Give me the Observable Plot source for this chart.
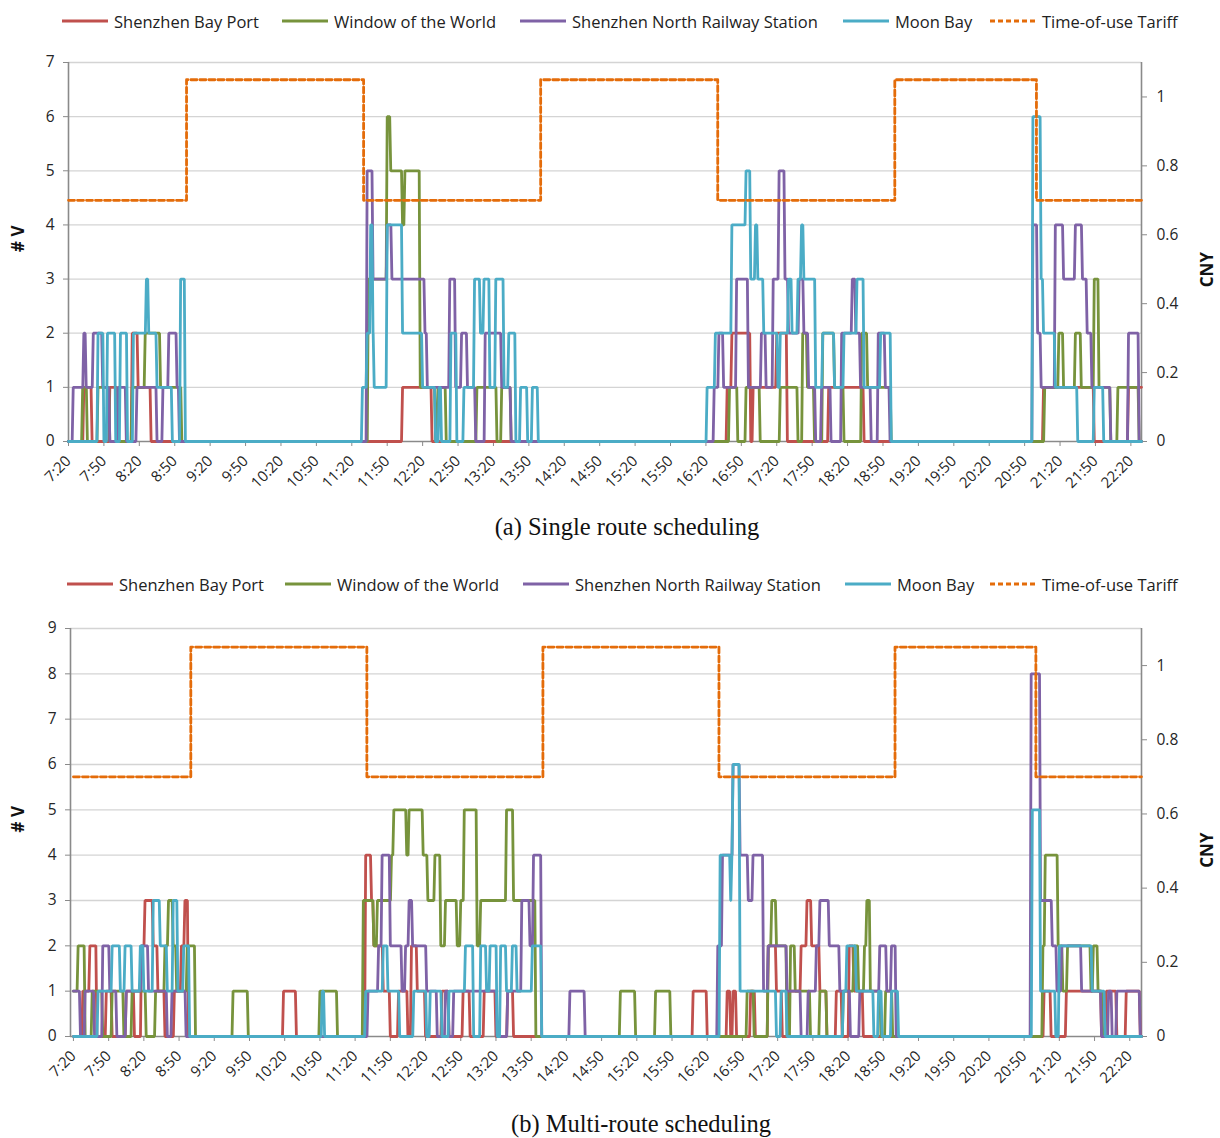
<!DOCTYPE html>
<html><head><meta charset="utf-8">
<script src="https://cdn.jsdelivr.net/npm/d3@7"></script>
<script src="https://cdn.jsdelivr.net/npm/@observablehq/plot@0.6"></script>
<style>
body{margin:0;background:#fff;font-family:"Open Sans",sans-serif;}
#page{position:relative;width:1220px;height:1138px;overflow:hidden;}
.legend{position:absolute;left:0;width:1220px;height:22px;font-size:16.5px;color:#222;}
.legend .item{position:absolute;top:0;height:22px;display:flex;align-items:center;white-space:nowrap;}
.legend svg{margin-right:6px;}
.chart{position:absolute;left:0;}
.caption{position:absolute;transform:translateX(-50%);font-family:"Liberation Serif",serif;font-size:24.5px;color:#111;white-space:nowrap;}
</style></head>
<body><div id="page"></div>
<script>
// ---------- data ----------
const seriesNames = ["Shenzhen Bay Port","Window of the World","Shenzhen North Railway Station","Moon Bay","Time-of-use Tariff"];
const seriesColors = ["#C0504D","#77933C","#7F62A6","#4BACC6","#E46C0A"];

const tariff_t = ["7:20","9:00","11:30","14:00","16:30","19:00","21:00"];
const tariff_v = [0.7,1.05,0.7,1.05,0.7,1.05,0.7];

// (a) single route scheduling
const aSBP_t = ["7:20","7:33","7:40","7:55","8:02","8:14","8:19","8:30","12:03","12:28","16:38","16:42","16:58","17:00","17:20","17:29","18:04","18:34","21:06","21:49","22:18"];
const aSBP_v = [0,1,0,1,0,2,1,0,1,0,1,2,0,1,2,0,1,0,1,0,1];
const aWOW_t = ["7:20","7:32","7:36","7:45","7:55","8:14","8:25","8:38","8:56","11:34","11:50","11:53","12:03","12:05","12:18","12:31","12:33","12:40","13:06","13:23","13:27","13:35","16:40","16:47","16:54","17:06","17:23","17:38","17:42","17:46","17:52","17:59","18:09","18:17","18:32","18:37","18:57","21:07","21:19","21:23","21:33","21:38","21:49","21:53","22:03","22:09","22:27"];
const aWOW_v = [0,1,0,1,0,1,2,1,0,3,6,5,4,5,1,0,1,0,1,0,1,0,1,0,1,0,1,0,2,1,0,2,1,0,2,1,0,1,2,1,2,1,3,1,0,1,0];
const aNRS_t = ["7:20","7:24","7:33","7:35","7:41","7:49","7:55","8:02","8:09","8:18","8:35","8:40","8:45","8:52","8:54","11:33","11:38","11:50","11:54","12:22","12:24","12:43","12:48","12:53","12:58","13:05","13:13","13:27","13:35","16:27","16:31","16:35","16:46","16:56","17:07","17:11","17:17","17:22","17:27","17:30","17:39","17:43","17:47","17:53","17:58","18:06","18:15","18:24","18:27","18:31","18:40","18:46","18:52","18:56","20:57","21:01","21:04","21:16","21:23","21:33","21:39","21:43","21:47","22:03","22:18","22:27"];
const aNRS_v = [0,1,2,1,2,1,0,1,0,1,0,1,2,1,0,5,3,4,3,2,1,3,1,2,1,0,2,1,0,1,2,1,3,1,2,1,3,5,3,2,3,2,1,0,1,0,2,3,2,1,0,2,1,0,4,2,1,4,3,4,3,2,1,0,2,0];
const aMB_t = ["7:20","7:45","7:50","7:53","8:00","8:04","8:10","8:15","8:26","8:28","8:35","8:48","8:55","8:59","11:29","11:33","11:36","11:38","11:39","11:50","12:03","12:20","12:31","12:34","12:36","12:44","12:49","12:55","13:04","13:09","13:12","13:17","13:22","13:29","13:33","13:39","13:43","13:49","13:53","13:58","16:21","16:28","16:42","16:54","16:58","17:02","17:04","17:09","17:21","17:23","17:30","17:33","17:38","17:41","17:43","17:53","17:59","18:09","18:17","18:28","18:34","18:48","18:57","20:57","21:04","21:06","21:16","21:35","21:49","21:57"];
const aMB_v = [0,2,0,2,0,2,0,2,3,2,1,0,3,0,1,2,4,2,1,4,2,1,0,1,0,2,0,1,3,2,3,1,3,1,2,0,1,0,1,0,1,2,4,5,3,4,3,2,1,2,3,2,3,4,3,1,2,1,2,3,1,2,0,6,3,2,1,0,1,0];

// (b) multi-route scheduling
const bSBP_t = ["7:20","7:28","7:34","7:40","7:48","7:53","8:05","8:12","8:18","8:21","8:28","8:32","8:38","8:46","8:52","8:55","8:58","10:19","10:30","11:29","11:34","11:36","11:44","11:50","11:57","12:05","12:08","12:13","12:20","12:34","12:40","12:52","12:58","13:10","13:20","13:30","13:35","16:08","16:20","16:37","16:40","16:42","16:45","16:57","17:01","17:12","17:19","17:24","17:30","17:40","17:45","17:49","17:56","18:02","18:10","18:15","18:21","18:25","18:33","21:07","21:13","21:26","21:56","22:00","22:09","22:17","22:29"];
const bSBP_v = [0,1,2,0,1,0,1,0,2,3,2,1,0,1,2,3,0,1,0,4,3,2,1,0,1,0,2,1,0,1,0,1,0,1,0,1,0,1,0,1,0,1,0,1,0,2,1,0,1,2,3,2,1,0,1,0,2,1,0,1,0,1,0,1,0,1,0];
const bWOW_t = ["7:20","7:24","7:30","7:36","7:45","7:53","8:03","8:10","8:22","8:30","8:38","8:41","8:45","8:48","8:57","9:04","9:36","9:49","10:50","11:05","11:27","11:36","11:39","11:51","11:53","12:04","12:06","12:18","12:22","12:28","12:33","12:37","12:47","12:50","12:53","13:04","13:07","13:29","13:35","13:54","15:06","15:19","15:36","15:49","16:54","17:00","17:12","17:15","17:19","17:28","17:31","17:35","17:48","17:56","18:02","18:16","18:25","18:29","18:34","18:36","18:39","18:48","18:52","18:58","21:06","21:08","21:19","21:23","21:27","21:47","21:49","21:53","21:57"];
const bWOW_v = [1,2,0,1,0,1,0,1,0,1,2,3,2,1,2,0,1,0,1,0,3,2,3,4,5,4,5,4,3,4,2,3,2,3,5,2,3,5,3,0,1,0,1,0,1,0,2,3,2,0,2,1,0,1,0,1,2,1,2,3,1,0,1,0,2,4,2,1,2,1,2,1,0];
const bNRS_t = ["7:20","7:26","7:30","7:38","7:45","7:51","7:57","8:05","8:18","8:24","8:40","8:44","8:56","11:31","11:40","11:43","11:50","12:00","12:03","12:06","12:09","12:21","12:30","12:37","12:40","12:44","13:21","13:30","13:42","13:49","13:52","13:59","14:23","14:36","16:29","16:33","16:42","16:48","16:55","16:59","17:08","17:12","17:28","17:40","17:46","17:53","17:56","18:04","18:13","18:22","18:30","18:47","18:53","18:57","19:01","20:56","21:04","21:14","21:18","21:22","21:39","21:56","22:02","22:05","22:09","22:29"];
const bNRS_v = [1,0,1,0,2,1,0,1,2,1,0,1,0,1,2,4,2,1,2,3,2,1,0,1,0,1,0,1,3,2,4,0,1,0,2,4,6,4,3,4,1,2,1,0,1,2,3,2,1,0,1,2,1,2,0,8,3,2,1,2,1,0,1,0,1,0];
const bMB_t = ["7:20","7:41","7:53","8:00","8:04","8:10","8:17","8:20","8:28","8:34","8:40","8:45","8:49","8:54","8:59","10:52","10:54","11:29","11:44","11:48","11:58","12:10","12:21","12:24","12:34","12:40","12:54","13:01","13:07","13:12","13:15","13:21","13:24","13:29","13:34","13:38","13:51","13:59","16:31","16:40","16:41","16:42","16:48","17:19","17:23","17:28","18:16","18:19","18:27","18:42","18:46","18:49","18:57","19:03","20:57","21:04","21:17","21:20","21:48","21:59"];
const bMB_v = [0,1,2,1,2,1,2,1,3,2,1,3,1,2,0,1,0,1,2,1,0,1,0,1,0,1,2,0,2,1,2,0,2,1,2,1,2,0,4,3,4,6,1,0,1,0,1,2,1,0,1,0,1,0,5,1,0,2,1,0];

const xTickStart = "7:20", xTickEnd = "22:20", xTickStep = 30;
const cnyTicks = [0,0.2,0.4,0.6,0.8,1];
const cnyMax = 1.1;

// ---------- helpers ----------
const toMin = s => { const [h,m] = s.split(":").map(Number); return h*60+m; };
const fmtClock = m => `${Math.floor(m/60)}:${String(Math.round(m%60)).padStart(2,"0")}`;
// per-minute samples joined by straight segments (as in the source spreadsheet chart)
function build(ts, vs, end) {
  const pts = [];
  ts.forEach((t,i)=>{
    const x = toMin(t);
    if (i > 0) pts.push({x: x - 0.9, y: vs[i-1]});
    pts.push({x, y: vs[i]});
  });
  pts.push({x: end, y: vs[vs.length-1]});
  return pts;
}
function buildStep(ts, vs, end, scale) {
  const pts = ts.map((t,i)=>({x: toMin(t), y: vs[i]*scale}));
  pts.push({x: end, y: vs[vs.length-1]*scale});
  return pts;
}

const page = document.getElementById("page");

function legend(top, starts) {
  const div = document.createElement("div");
  div.className = "legend"; div.style.top = top + "px";
  seriesNames.forEach((name,i)=>{
    const it = document.createElement("div");
    it.className = "item"; it.style.left = starts[i] + "px";
    const dash = i === 4 ? 'stroke-dasharray="5,3"' : '';
    it.innerHTML = `<svg width="46" height="6"><line x1="0" y1="3" x2="46" y2="3" stroke="${seriesColors[i]}" stroke-width="3" ${dash}/></svg><span>${name}</span>`;
    div.appendChild(it);
  });
  page.appendChild(div);
}

function panel(cfg) {
  const k = cfg.yMax / cnyMax;
  const end = cfg.domain[1];
  const data = [
    build(cfg.sbp[0], cfg.sbp[1], end),
    build(cfg.wow[0], cfg.wow[1], end),
    build(cfg.nrs[0], cfg.nrs[1], end),
    build(cfg.mb[0], cfg.mb[1], end)
  ];
  const tar = buildStep(tariff_t, tariff_v, end, k);
  const xt = d3.range(toMin(xTickStart), toMin(xTickEnd)+1, xTickStep);
  const plot = Plot.plot({
    width: 1220, height: cfg.height,
    marginLeft: cfg.ml, marginRight: 79, marginTop: cfg.mt, marginBottom: cfg.mb_,
    x: {type: "linear", domain: cfg.domain},
    y: {domain: [0, cfg.yMax]},
    style: {fontFamily: "Open Sans, sans-serif", fontSize: "15.5px", color: "#262626", background: "#fff"},
    marks: [
      Plot.gridY(d3.range(1, cfg.yMax+1), {stroke: "#d4d4d4", strokeOpacity: 1, strokeWidth: 1.3}),
      Plot.ruleY([0], {stroke: "#8a8a8a", strokeWidth: 1.6}),
      Plot.ruleX([cfg.domain[0]], {stroke: "#8a8a8a", strokeWidth: 1.6}),
      Plot.ruleX([cfg.domain[1]], {stroke: "#8a8a8a", strokeWidth: 1.6}),
      Plot.axisX(xt, {tickRotate: -45, tickFormat: fmtClock, tickSize: 5, tickPadding: 12, stroke: "#8a8a8a", fontSize: 15, label: null}),
      Plot.axisY(d3.range(0, cfg.yMax+1), {anchor: "left", tickSize: 5, tickPadding: 9, stroke: "#8a8a8a", tickFormat: d => String(d), label: null}),
      Plot.axisY(cnyTicks.map(v=>v*k), {anchor: "right", tickSize: 5, tickPadding: 10, stroke: "#8a8a8a", tickFormat: d => String(Math.round(d/k*10)/10), label: null}),
      ...data.map((d,i)=>Plot.line(d, {x: "x", y: "y", stroke: seriesColors[i], strokeWidth: 2.8, strokeLinejoin: "miter", curve: "linear"})),
      Plot.line(tar, {x: "x", y: "y", stroke: seriesColors[4], strokeWidth: 2.8, strokeDasharray: "6,3", curve: "step-after"}),
      Plot.text(["# V"], {frameAnchor: "left", rotate: -90, dx: cfg.ml === 68 ? -50 : -52, fontWeight: "bold", fontSize: 17, fill: "#111"}),
      Plot.text(["CNY"], {frameAnchor: "right", rotate: -90, dx: 66, fontWeight: "bold", fontSize: 17, fill: "#111"})
    ]
  });
  plot.classList.add("chart");
  plot.style.top = cfg.top + "px";
  page.appendChild(plot);
  const cap = document.createElement("div");
  cap.className = "caption"; cap.textContent = cfg.caption;
  cap.style.left = cfg.capX + "px"; cap.style.top = cfg.capY + "px";
  page.appendChild(cap);
}

legend(10, [62, 282, 520, 843, 990]);
panel({top: 40, height: 463, mt: 22, mb_: 62, ml: 68, yMax: 7, domain: [440, 1349],
  sbp: [aSBP_t, aSBP_v], wow: [aWOW_t, aWOW_v], nrs: [aNRS_t, aNRS_v], mb: [aMB_t, aMB_v],
  caption: "(a) Single route scheduling", capX: 627, capY: 513});
legend(573, [67, 285, 523, 845, 990]);
panel({top: 602, height: 496, mt: 26, mb_: 62, ml: 70, yMax: 9, domain: [437.5, 1350],
  sbp: [bSBP_t, bSBP_v], wow: [bWOW_t, bWOW_v], nrs: [bNRS_t, bNRS_v], mb: [bMB_t, bMB_v],
  caption: "(b) Multi-route scheduling", capX: 641, capY: 1110});
</script></body></html>
